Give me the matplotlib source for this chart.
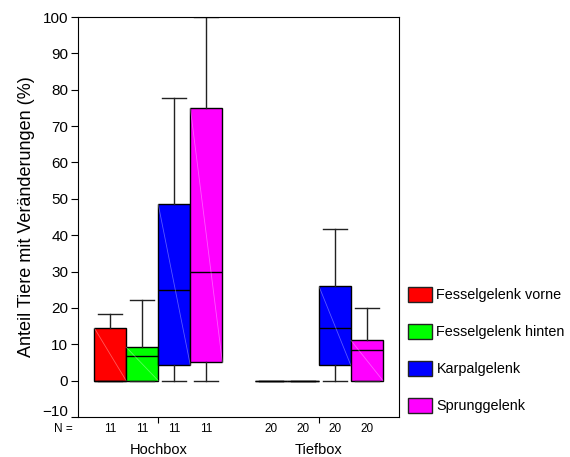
import matplotlib
matplotlib.use("Agg")
import matplotlib.pyplot as plt
import matplotlib.transforms as mtransforms
from matplotlib.patches import Patch

plt.rcParams['font.family'] = ['Liberation Sans', 'DejaVu Sans']

groups = ['Hochbox', 'Tiefbox']
joints = ['Fesselgelenk vorne', 'Fesselgelenk hinten', 'Karpalgelenk', 'Sprunggelenk']
colors = ['#ff0000', '#00ff00', '#0000ff', '#ff00ff']
counts = [[11, 11, 11, 11], [20, 20, 20, 20]]

# box statistics per group: whislo, q1, med, q3, whishi
whislo = [[0, 0, 0, 0], [0, 0, 0, 0]]
q1 = [[0, 0, 4.2, 5.0], [0, 0, 4.2, 0]]
med = [[0, 6.7, 25.0, 30.0], [0, 0, 14.6, 8.3]]
q3 = [[14.6, 9.2, 48.5, 74.9], [0, 0, 26.1, 11.1]]
whishi = [[18.3, 22.3, 77.7, 100.0], [0, 0, 41.6, 20.0]]

fig = plt.figure(figsize=(5.70, 4.57), dpi=100)
ax = fig.add_axes([0.1368, 0.0875, 0.5632, 0.8753])

w = 0.2
offsets = [-1.5 * w, -0.5 * w, 0.5 * w, 1.5 * w]

for g in range(len(groups)):
    for j in range(len(joints)):
        pos = g + 1 + offsets[j]
        st = dict(whislo=whislo[g][j], q1=q1[g][j], med=med[g][j],
                  q3=q3[g][j], whishi=whishi[g][j], fliers=[])
        bp = ax.bxp([st], positions=[pos], widths=w, capwidths=w * 0.75,
                    patch_artist=True, showfliers=False,
                    boxprops=dict(facecolor=colors[j], edgecolor='black', linewidth=1),
                    medianprops=dict(color='black', linewidth=1),
                    whiskerprops=dict(color='#222222', linewidth=1),
                    capprops=dict(color='#222222', linewidth=1))
        # faint diagonal artefact inside the box
        if q3[g][j] > q1[g][j]:
            ax.plot([pos - w / 2, pos + w / 2], [q3[g][j], q1[g][j]],
                    color='white', alpha=0.35, linewidth=0.6, zorder=3)

ax.set_xlim(0.5, 2.5)
ax.set_ylim(-10, 100)
ax.set_yticks(range(-10, 101, 10))
ax.set_xticks([1, 2])
ax.set_xticklabels(['', ''])
ax.tick_params(axis='y', direction='out', length=5, labelsize=11, colors='black', pad=2)
ax.tick_params(axis='x', direction='out', length=4)
ax.set_ylabel('Anteil Tiere mit Veränderungen (%)', fontsize=13, labelpad=5)

# the lowest tick label sits a little above its tick, as in the original
lowest = ax.get_yticklabels()[0]
lowest.set_transform(lowest.get_transform() +
                     mtransforms.ScaledTranslation(0, 5 / 72, fig.dpi_scale_trans))

trans = mtransforms.blended_transform_factory(ax.transData, ax.transAxes)
ax.text(0.47, -0.03, 'N =', transform=trans, fontsize=8.5, ha='right', va='center')
for g in range(len(groups)):
    for j in range(len(joints)):
        ax.text(g + 1 + offsets[j], -0.03, str(counts[g][j]), transform=trans,
                fontsize=8.5, ha='center', va='center')
    ax.text(g + 1, -0.083, groups[g], transform=trans, fontsize=10.5,
            ha='center', va='center')

handles = [Patch(facecolor=c, edgecolor='#222222', linewidth=1) for c in colors]
fig.legend(handles, joints, loc='center left', bbox_to_anchor=(0.715, 0.234),
           frameon=False, fontsize=10.4, handlelength=1.7, handleheight=1.2,
           labelspacing=1.5, handletextpad=0.3, borderpad=0, borderaxespad=0)

fig.savefig('out.png', dpi=100)
